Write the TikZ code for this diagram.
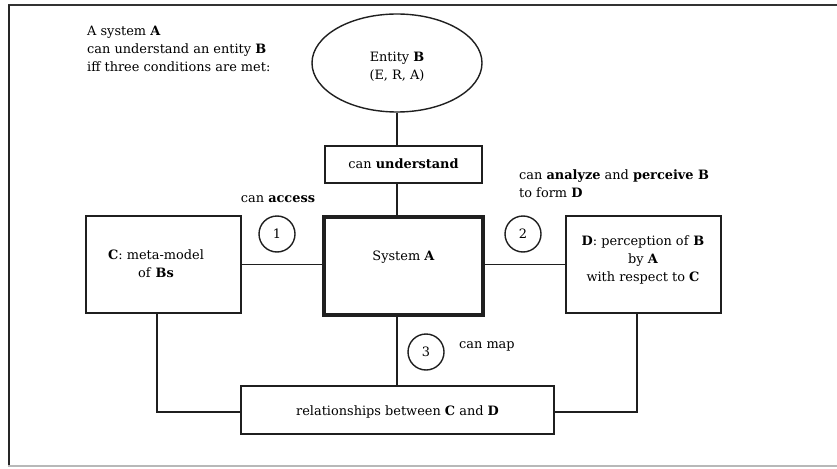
\documentclass[tikz,border=0pt]{standalone}
\usepackage{fontspec}
\setmainfont{DejaVu Serif}
\usetikzlibrary{shapes.geometric}
\begin{document}
\begin{tikzpicture}[x=1pt,y=-1pt,
  every node/.style={font=\fontsize{12.9}{18}\selectfont, inner sep=0pt, text=black},
  conn/.style={draw=black!88, line width=1.7pt},
  box/.style={draw=black!88, line width=1.7pt, rectangle},
  num/.style={draw=black!88, line width=1.4pt, circle, minimum size=36pt},
  txt/.style={align=center}]
  % page area and its frame
  \useasboundingbox (0,0) rectangle (837,468);
  \fill[white] (0,0) rectangle (837,468);
  \draw[black!80, line width=2.6pt] (8,5) -- (837,5);
  \draw[black!85, line width=1.8pt] (9,5) -- (9,466);
  \draw[black!28, line width=1.6pt] (8,466) -- (837,466);

  % definition text
  \node[anchor=west, align=left] (def) at (87,48.5)
    {A system \textbf{A}\\can understand an entity \textbf{B}\\iff three conditions are met:};

  % the entity
  \node[ellipse, draw=black!88, line width=1.4pt, minimum width=170pt, minimum height=98pt] (entity) at (397,63) {};
  \node[txt] (entitytxt) at (397,66.5) {Entity \textbf{B}\\(E, R, A)};

  % relation box and the system
  \node[box, minimum width=157pt, minimum height=37pt] (und) at (403.5,164.5) {};
  \node (undtxt) at (403.5,164) {can \textbf{understand}};
  \node[box, line width=3.6pt, minimum width=159pt, minimum height=98pt] (sysA) at (403.5,266) {};
  \node (sysAtxt) at (403.5,257) {System \textbf{A}};

  % meta-model and perception
  \node[box, minimum width=155pt, minimum height=97pt] (C) at (163.5,264.5) {};
  \node[txt] (Ctxt) at (156,264) {\textbf{C}: meta-model\\of \textbf{Bs}};
  \node[box, minimum width=155pt, minimum height=97pt] (D) at (643.5,264.5) {};
  \node[txt] (Dtxt) at (643,259.5) {\textbf{D}: perception of \textbf{B}\\by \textbf{A}\\with respect to \textbf{C}};

  % relationships
  \node[box, minimum width=313pt, minimum height=48pt] (rel) at (397.5,410) {};
  \node (reltxt) at (397.5,412) {relationships between \textbf{C} and \textbf{D}};

  % numbered conditions and their labels
  \node[num] (n1) at (277,234) {1};
  \node[num] (n2) at (523,234) {2};
  \node[num] (n3) at (426,352) {3};
  \node (access) at (278,199) {can \textbf{access}};
  \node[anchor=west, align=left] (analyze) at (519,184)
    {can \textbf{analyze} and \textbf{perceive B}\\to form \textbf{D}};
  \node[anchor=west] (map) at (459,346) {can map};

  % connectors
  \coordinate (spine) at (397,0);
  \draw[conn] (entity.south -| spine) -- (und.north -| spine);
  \draw[conn] (und.south -| spine) -- (sysA.north -| spine);
  \draw[conn] (sysA.south -| spine) -- (rel.north -| spine);
  \draw[conn] (C.east) -- (C.east -| sysA.west);
  \draw[conn] (D.west -| sysA.east) -- (D.west);
  \draw[conn] ([xshift=-6.5pt]C.south) |- ([yshift=-2pt]rel.west);
  \draw[conn] ([xshift=-6.5pt]D.south) |- ([yshift=-2pt]rel.east);
\end{tikzpicture}
\end{document}
